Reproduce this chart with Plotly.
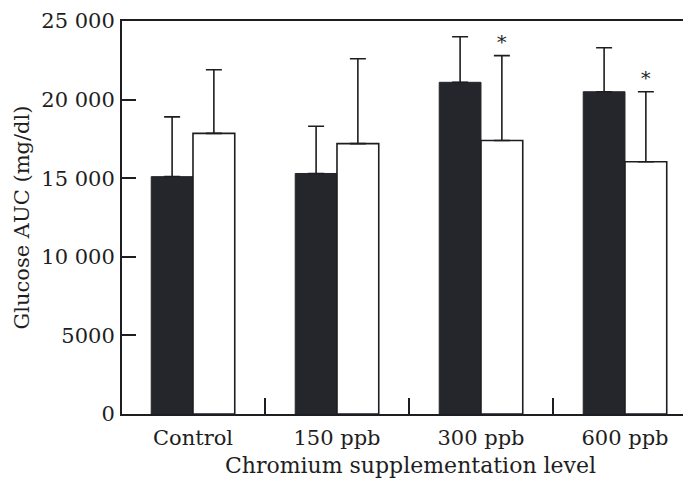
import plotly.graph_objects as go

categories = ["Control", "150 ppb", "300 ppb", "600 ppb"]
dark_values = [15100, 15300, 21100, 20500]
dark_errors = [3800, 3000, 2900, 2800]
white_values = [17850, 17200, 17400, 16050]
white_errors = [4050, 5400, 5400, 4450]
white_significant = [False, False, True, True]
y_tickvals = [0, 5000, 10000, 15000, 20000, 25000]
y_ticktext = ["0", "5000", "10 000", "15 000", "20 000", "25 000"]

FONT = "DejaVu Serif"
INK = "#1e1e22"

fig = go.Figure()
fig.add_trace(go.Bar(
    x=categories, y=dark_values,
    marker=dict(color="#25262c", line=dict(color="#25262c", width=1)),
    error_y=dict(type="data", array=dark_errors, symmetric=False, arrayminus=[0]*4,
                 color=INK, thickness=1.6, width=8),
    showlegend=False,
))
fig.add_trace(go.Bar(
    x=categories, y=white_values,
    marker=dict(color="white", line=dict(color=INK, width=1.6)),
    error_y=dict(type="data", array=white_errors, symmetric=False, arrayminus=[0]*4,
                 color=INK, thickness=1.6, width=8),
    showlegend=False,
))

for cat, v, e, sig in zip(categories, white_values, white_errors, white_significant):
    if sig:
        fig.add_annotation(x=cat, y=v + e, xref="x", yref="y", text="*",
                           showarrow=False, xshift=21, yshift=1, yanchor="bottom",
                           font=dict(family=FONT, size=19, color=INK))

fig.update_layout(
    width=691, height=483,
    margin=dict(l=114, r=0, t=13, b=77),
    paper_bgcolor="white", plot_bgcolor="white",
    barmode="group", bargap=0.42, bargroupgap=0,
    font=dict(family=FONT, size=21, color=INK),
)
fig.update_xaxes(
    range=[-0.493, 3.514], automargin=False,
    showline=True, linecolor=INK, linewidth=2, mirror=True,
    ticks="inside", tickson="boundaries", ticklen=16, tickwidth=1.5, tickcolor=INK,
    showgrid=False, zeroline=False,
    tickfont=dict(family=FONT, size=21, color=INK),
    ticklabelstandoff=4,
    title=dict(text="Chromium supplementation level", font=dict(family=FONT, size=22, color=INK), standoff=8),
)
fig.update_yaxes(
    range=[0, 25000], automargin=False,
    tickvals=y_tickvals, ticktext=y_ticktext,
    showline=True, linecolor=INK, linewidth=2,
    ticks="inside", ticklen=14, tickwidth=1.5, tickcolor=INK,
    showgrid=False, zeroline=False,
    tickfont=dict(family=FONT, size=21, color=INK),
    ticklabelstandoff=1,
    title=dict(text="Glucose AUC (mg/dl)", font=dict(family=FONT, size=21, color=INK), standoff=6),
)

fig.write_html("out.html")
